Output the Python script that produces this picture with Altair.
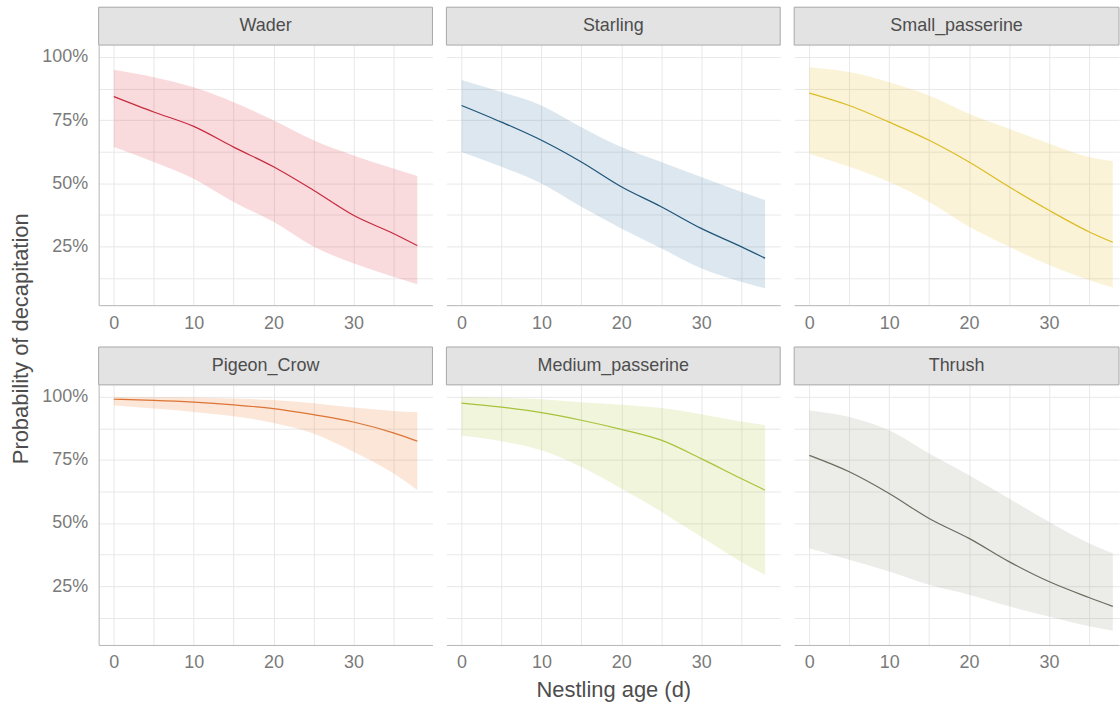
import altair as alt
import pandas as pd

ages = [0, 5, 10, 15, 20, 25, 30, 35, 38]
groups = ["Wader", "Starling", "Small_passerine", "Pigeon_Crow", "Medium_passerine", "Thrush"]

wader_fit = [0.843, 0.782, 0.725, 0.643, 0.565, 0.472, 0.373, 0.301, 0.253]
wader_lo = [0.643, 0.584, 0.518, 0.426, 0.347, 0.249, 0.183, 0.130, 0.100]
wader_hi = [0.949, 0.920, 0.880, 0.821, 0.749, 0.670, 0.610, 0.558, 0.529]

starling_fit = [0.808, 0.742, 0.670, 0.584, 0.486, 0.407, 0.321, 0.249, 0.203]
starling_lo = [0.624, 0.565, 0.499, 0.407, 0.321, 0.242, 0.163, 0.110, 0.084]
starling_hi = [0.909, 0.861, 0.808, 0.722, 0.643, 0.584, 0.525, 0.466, 0.433]

small_fit = [0.857, 0.808, 0.742, 0.670, 0.584, 0.486, 0.393, 0.308, 0.266]
small_lo = [0.617, 0.565, 0.505, 0.426, 0.328, 0.249, 0.176, 0.117, 0.087]
small_hi = [0.959, 0.940, 0.900, 0.847, 0.775, 0.716, 0.657, 0.604, 0.588]

pigeon_fit = [0.990, 0.986, 0.979, 0.968, 0.953, 0.929, 0.900, 0.857, 0.824]
pigeon_lo = [0.966, 0.953, 0.940, 0.923, 0.896, 0.854, 0.782, 0.697, 0.631]
pigeon_hi = [0.999, 0.998, 0.997, 0.993, 0.987, 0.974, 0.957, 0.944, 0.939]

medium_fit = [0.975, 0.959, 0.937, 0.907, 0.871, 0.828, 0.755, 0.676, 0.630]
medium_lo = [0.847, 0.824, 0.788, 0.722, 0.637, 0.545, 0.446, 0.347, 0.295]
medium_hi = [0.999, 0.996, 0.990, 0.978, 0.968, 0.955, 0.931, 0.902, 0.887]

thrush_fit = [0.768, 0.703, 0.617, 0.518, 0.439, 0.347, 0.268, 0.205, 0.170]
thrush_lo = [0.400, 0.354, 0.308, 0.255, 0.216, 0.170, 0.130, 0.091, 0.073]
thrush_hi = [0.946, 0.920, 0.867, 0.775, 0.689, 0.597, 0.505, 0.420, 0.380]

fits = [wader_fit, starling_fit, small_fit, pigeon_fit, medium_fit, thrush_fit]
los = [wader_lo, starling_lo, small_lo, pigeon_lo, medium_lo, thrush_lo]
his = [wader_hi, starling_hi, small_hi, pigeon_hi, medium_hi, thrush_hi]

line_colors = ["#c62a3c", "#1d5478", "#dcbc24", "#dd7433", "#a8c23a", "#6b6b5e"]
fill_colors = ["#e14655", "#5587af", "#ebc33c", "#eb823c", "#b4cd50", "#a0a08c"]

x_grid_values = [0, 5, 10, 15, 20, 25, 30, 35]
y_grid_values = [0.125, 0.25, 0.375, 0.5, 0.625, 0.75, 0.875, 1.0]

FONT = "Liberation Sans"
PANEL_W = 335
PANEL_H = 261
STRIP_H = 38
X_LO = -1.9
PX_PER_UNIT = PANEL_W / 41.8
Y_DOMAIN = [0.017, 1.047]
GRID = "#e8e8e8"
DOMAIN = "#b5b5b5"
LABEL = "#7a7a7a"
TITLE = "#4d4d4d"


def y_axis_for(show_y):
    if show_y:
        return alt.Axis(values=y_grid_values, format=".0%",
                        labelExpr="(datum.value == 0.25 || datum.value == 0.5 || datum.value == 0.75 || datum.value == 1) ? datum.label : ''",
                        grid=True, gridColor=GRID, gridWidth=1,
                        domain=True, domainColor=DOMAIN, domainWidth=1,
                        ticks=False, labelPadding=11,
                        labelFont=FONT, labelFontSize=18, labelColor=LABEL, title=None)
    return alt.Axis(values=y_grid_values, labels=False, domain=False, ticks=False,
                    grid=True, gridColor=GRID, gridWidth=1, title=None)


def x_axis_for(xtitle):
    kw = dict(
        values=x_grid_values,
        labelExpr="datum.value % 10 == 0 ? datum.label : ''",
        grid=True, gridColor=GRID, gridWidth=1,
        domain=True, domainColor=DOMAIN, domainWidth=1,
        ticks=False, labelPadding=9,
        labelFont=FONT, labelFontSize=18, labelColor=LABEL, labelFlush=False,
    )
    if xtitle:
        kw.update(title=xtitle, titleFont=FONT, titleFontSize=22,
                  titleFontWeight="normal", titleColor=TITLE, titlePadding=8)
    else:
        kw.update(title=None)
    return alt.Axis(**kw)


def panel(i, width, show_y, xtitle=None):
    name = groups[i]
    df = pd.DataFrame({"age": ages, "fit": fits[i], "lo": los[i], "hi": his[i]})
    xdom = [X_LO, X_LO + width / PX_PER_UNIT]
    xscale = alt.Scale(domain=xdom, nice=False, zero=False)
    yscale = alt.Scale(domain=Y_DOMAIN, nice=False, zero=False)
    base = alt.Chart(df)
    area = base.mark_area(color=fill_colors[i], opacity=0.2, interpolate="monotone").encode(
        x=alt.X("age:Q", scale=xscale, axis=x_axis_for(xtitle)),
        y=alt.Y("lo:Q", scale=yscale, axis=y_axis_for(show_y)),
        y2="hi:Q")
    line = base.mark_line(color=line_colors[i], strokeWidth=1.2, interpolate="monotone").encode(
        x=alt.X("age:Q", scale=xscale, axis=x_axis_for(xtitle)),
        y=alt.Y("fit:Q", scale=yscale, axis=y_axis_for(show_y)))
    sdata = alt.Data(values=[{"label": name}])
    strip = alt.Chart(sdata).mark_rect(fill="#e3e3e3", stroke="#a8a8a8", strokeWidth=1).encode(
        x=alt.value(0), x2=alt.value(width), y=alt.value(-STRIP_H), y2=alt.value(0))
    text = alt.Chart(sdata).mark_text(font=FONT, fontSize=18, color="#4d4d4d",
                                      baseline="middle", align="center").encode(
        text="label:N", x=alt.value(width / 2), y=alt.value(-STRIP_H / 2))
    return alt.layer(area, line, strip, text).properties(width=width, height=PANEL_H)


W3 = 326
row1 = alt.hconcat(panel(0, PANEL_W, True), panel(1, PANEL_W, False), panel(2, W3, False), spacing=12)
row2 = alt.hconcat(panel(3, PANEL_W, True), panel(4, PANEL_W, False, "Nestling age (d)"),
                   panel(5, W3, False), spacing=12)

chart = alt.vconcat(row1, row2, spacing=14).properties(
    title=alt.TitleParams("Probability of decapitation", orient="left", anchor="middle",
                          font=FONT, fontSize=22, fontWeight="normal", color=TITLE, offset=9, dx=15),
    padding={"left": 9, "top": 5, "right": 0, "bottom": 0},
).configure_view(stroke=None)

chart.save("out.html", embed_options={"renderer": "svg", "actions": False})
